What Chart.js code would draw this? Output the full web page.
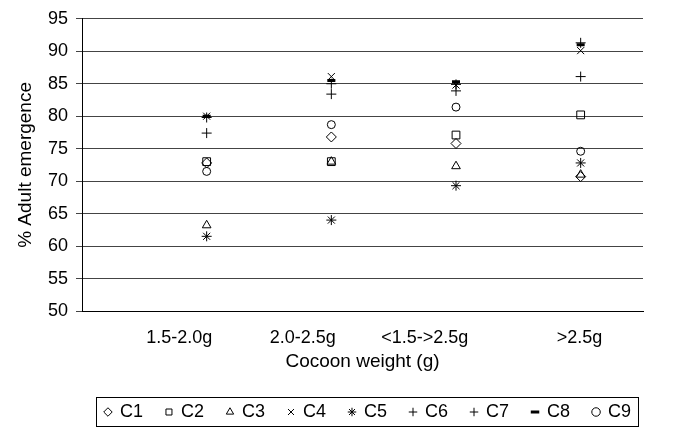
<!DOCTYPE html>
<html>
<head>
    <script src="https://cdn.jsdelivr.net/npm/chart.js@4.4.0/dist/chart.umd.min.js"></script>
    <style>
        body { margin: 0; background: #fff; }
        #wrap { width: 692px; height: 433px; }
    </style>
</head>
<body>
<div id="wrap">
    <canvas id="myChart"></canvas>
</div>

<script>
    // categories sit at x = 1..4 on a 0..4.5 axis
    const categories = ['1.5-2.0g', '2.0-2.5g', '<1.5->2.5g', '>2.5g'];
    // where the category names are written on that axis (text boxes in the original)
    const labelAt = [0.78, 1.77, 2.75, 3.99];
    const yTicks = [50, 55, 60, 65, 70, 75, 80, 85, 90, 95];

    // % adult emergence per cross, one value per category
    const c1 = [72.8, 76.8, 75.8, 70.7];
    const c2 = [73.0, 73.0, 77.1, 80.2];
    const c3 = [63.2, 73.0, 72.3, 71.0];
    const c4 = [80.0, 86.1, 84.8, 90.1];
    const c5 = [61.5, 64.0, 69.3, 72.8];
    const c6 = [77.4, 83.4, 83.9, 86.1];
    const c7 = [79.8, 85.0, 84.9, 91.3];
    const c8 = [80.0, 85.5, 85.3, 91.0];
    const c9 = [71.5, 78.7, 81.4, 74.6];

    const FONT = 'Liberation Sans, Arial';

    function pts(arr) {
        return arr.map((v, i) => ({x: i + 1, y: v}));
    }

    function series(label, arr, style, radius, width) {
        return {
            label: label,
            data: pts(arr),
            pointStyle: style,
            pointRadius: radius,
            pointHoverRadius: radius,
            borderColor: '#000',
            backgroundColor: 'rgba(0,0,0,0)',
            borderWidth: width || 1,
            showLine: false
        };
    }

    // moves the legend right a bit and draws the box round it, like the excel one
    const legendBox = {
        id: 'legendBox',
        afterLayout(chart) {
            const lg = chart.legend;
            const dx = 368 - (lg.left + lg.right) / 2;
            lg.left += dx;
            lg.right += dx;
        },
        afterDraw(chart) {
            const lg = chart.legend;
            if (!lg || !lg.legendHitBoxes.length) return;
            const hb = lg.legendHitBoxes;
            let minX = Infinity, maxX = -Infinity, minY = Infinity, maxY = -Infinity;
            hb.forEach(b => {
                minX = Math.min(minX, b.left);
                maxX = Math.max(maxX, b.left + b.width);
                minY = Math.min(minY, b.top);
                maxY = Math.max(maxY, b.top + b.height);
            });
            const ctx = chart.ctx;
            ctx.save();
            ctx.strokeStyle = '#000';
            ctx.lineWidth = 1;
            ctx.strokeRect(Math.round(minX - 9) + 0.5, Math.round(minY - 6) + 0.5,
                Math.round(maxX - minX + 16), Math.round(maxY - minY + 11));
            ctx.restore();
        }
    };

    const ctx = document.getElementById('myChart').getContext('2d');
    const myChart = new Chart(ctx, {
        type: 'scatter',
        data: {
            datasets: [
                series('C1', c1, 'rectRot', 5),
                series('C2', c2, 'rect', 5.5),
                series('C3', c3, 'triangle', 5),
                series('C4', c4, 'crossRot', 5),
                series('C5', c5, 'star', 5),
                series('C6', c6, 'cross', 5),
                series('C7', c7, 'cross', 5),
                series('C8', c8, 'line', 4, 3),
                series('C9', c9, 'circle', 4)
            ]
        },
        plugins: [legendBox],
        options: {
            responsive: true,
            maintainAspectRatio: false,
            animation: false,
            layout: {
                padding: {top: 14, right: 49, left: 0, bottom: 2}
            },
            plugins: {
                tooltip: {enabled: false},
                legend: {
                    display: true,
                    position: 'bottom',
                    align: 'center',
                    labels: {
                        usePointStyle: true,
                        boxWidth: 6,
                        boxHeight: 6,
                        padding: 23,
                        color: '#000',
                        font: {family: FONT, size: 18}
                    }
                }
            },
            scales: {
                x: {
                    type: 'linear',
                    min: 0,
                    max: 4.5,
                    afterBuildTicks(scale) {
                        scale.ticks = labelAt.map(v => ({value: v}));
                    },
                    afterFit(scale) {
                        scale.height = 69;
                    },
                    ticks: {
                        color: '#000',
                        font: {family: FONT, size: 18},
                        maxRotation: 0,
                        padding: 8,
                        callback: (v, i) => categories[i]
                    },
                    grid: {display: false},
                    border: {color: '#000', width: 1},
                    title: {
                        display: true,
                        text: 'Cocoon weight (g)',
                        color: '#000',
                        font: {family: FONT, size: 19},
                        padding: {top: 0, bottom: 7}
                    }
                },
                y: {
                    min: 50,
                    max: 95,
                    afterBuildTicks(scale) {
                        scale.ticks = yTicks.map(v => ({value: v}));
                    },
                    afterFit(scale) {
                        scale.width = 82;
                    },
                    ticks: {
                        color: '#000',
                        font: {family: FONT, size: 18},
                        padding: 8
                    },
                    grid: {color: '#444', tickLength: 6},
                    border: {color: '#000', width: 1},
                    title: {
                        display: true,
                        text: '% Adult emergence',
                        color: '#000',
                        font: {family: FONT, size: 19},
                        padding: {top: 14, bottom: 0}
                    }
                }
            }
        }
    });
</script>
</body>
</html>
